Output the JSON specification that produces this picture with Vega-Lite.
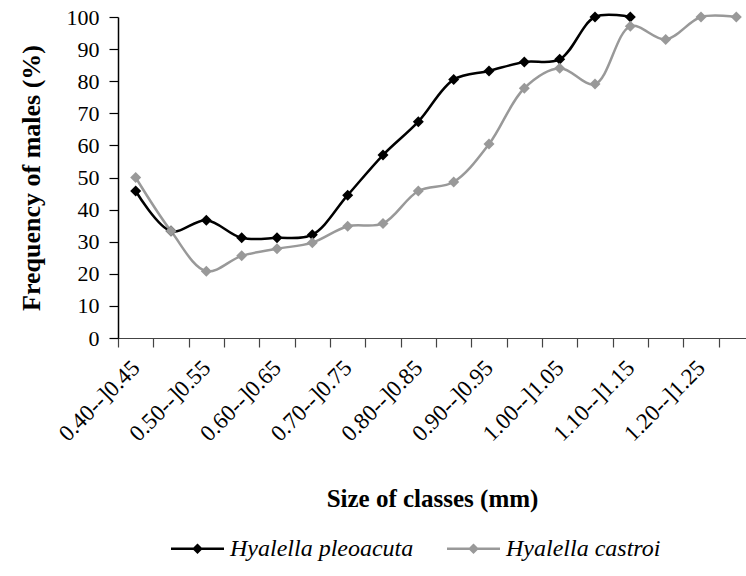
{
  "$schema": "https://vega.github.io/schema/vega-lite/v6.json",
  "autosize": "none",
  "width": 628,
  "height": 321,
  "padding": {"left": 118, "top": 17, "right": 0, "bottom": 238},
  "background": "white",
  "config": {
    "view": {"stroke": null},
    "font": "Liberation Serif"
  },
  "data": {
    "values": [
      {"size": "0.40--]0.45", "species": "Hyalella pleoacuta", "freq": 45.8},
      {"size": "0.45--]0.50", "species": "Hyalella pleoacuta", "freq": 33.3},
      {"size": "0.50--]0.55", "species": "Hyalella pleoacuta", "freq": 36.7},
      {"size": "0.55--]0.60", "species": "Hyalella pleoacuta", "freq": 31.2},
      {"size": "0.60--]0.65", "species": "Hyalella pleoacuta", "freq": 31.2},
      {"size": "0.65--]0.70", "species": "Hyalella pleoacuta", "freq": 32.2},
      {"size": "0.70--]0.75", "species": "Hyalella pleoacuta", "freq": 44.5},
      {"size": "0.75--]0.80", "species": "Hyalella pleoacuta", "freq": 57.0},
      {"size": "0.80--]0.85", "species": "Hyalella pleoacuta", "freq": 67.4},
      {"size": "0.85--]0.90", "species": "Hyalella pleoacuta", "freq": 80.5},
      {"size": "0.90--]0.95", "species": "Hyalella pleoacuta", "freq": 83.2},
      {"size": "0.95--]1.00", "species": "Hyalella pleoacuta", "freq": 86.0},
      {"size": "1.00--]1.05", "species": "Hyalella pleoacuta", "freq": 86.8},
      {"size": "1.05--]1.10", "species": "Hyalella pleoacuta", "freq": 100},
      {"size": "1.10--]1.15", "species": "Hyalella pleoacuta", "freq": 100},
      {"size": "0.40--]0.45", "species": "Hyalella castroi", "freq": 50.0},
      {"size": "0.45--]0.50", "species": "Hyalella castroi", "freq": 33.3},
      {"size": "0.50--]0.55", "species": "Hyalella castroi", "freq": 20.8},
      {"size": "0.55--]0.60", "species": "Hyalella castroi", "freq": 25.6},
      {"size": "0.60--]0.65", "species": "Hyalella castroi", "freq": 27.8},
      {"size": "0.65--]0.70", "species": "Hyalella castroi", "freq": 29.7},
      {"size": "0.70--]0.75", "species": "Hyalella castroi", "freq": 34.8},
      {"size": "0.75--]0.80", "species": "Hyalella castroi", "freq": 35.7},
      {"size": "0.80--]0.85", "species": "Hyalella castroi", "freq": 45.8},
      {"size": "0.85--]0.90", "species": "Hyalella castroi", "freq": 48.6},
      {"size": "0.90--]0.95", "species": "Hyalella castroi", "freq": 60.4},
      {"size": "0.95--]1.00", "species": "Hyalella castroi", "freq": 77.8},
      {"size": "1.00--]1.05", "species": "Hyalella castroi", "freq": 84.0},
      {"size": "1.05--]1.10", "species": "Hyalella castroi", "freq": 79.1},
      {"size": "1.10--]1.15", "species": "Hyalella castroi", "freq": 97.1},
      {"size": "1.15--]1.20", "species": "Hyalella castroi", "freq": 93.0},
      {"size": "1.20--]1.25", "species": "Hyalella castroi", "freq": 100},
      {"size": "1.25--]1.30", "species": "Hyalella castroi", "freq": 100}
    ]
  },
  "encoding": {
    "x": {
      "field": "size",
      "type": "ordinal",
      "sort": null,
      "scale": {
        "type": "band",
        "domain": ["0.40--]0.45", "0.45--]0.50", "0.50--]0.55", "0.55--]0.60", "0.60--]0.65", "0.65--]0.70", "0.70--]0.75", "0.75--]0.80", "0.80--]0.85", "0.85--]0.90", "0.90--]0.95", "0.95--]1.00", "1.00--]1.05", "1.05--]1.10", "1.10--]1.15", "1.15--]1.20", "1.20--]1.25", "1.25--]1.30"],
        "paddingInner": 0,
        "paddingOuter": 0,
        "range": [0, 636]
      },
      "axis": {
        "title": "Size of classes (mm)",
        "titleFont": "Liberation Serif",
        "titleFontSize": 25,
        "titleFontWeight": "bold",
        "titleColor": "black",
        "titleY": 148,
        "titleX": 314,
        "labelAngle": -45,
        "labelAlign": "right",
        "labelBaseline": "middle",
        "labelFont": "Liberation Serif",
        "labelFontSize": 23,
        "labelColor": "black",
        "labelPadding": 17,
        "labelOverlap": false,
        "labelLimit": 300,
        "labelExpr": "indexof(['0.40--]0.45','0.50--]0.55','0.60--]0.65','0.70--]0.75','0.80--]0.85','0.90--]0.95','1.00--]1.05','1.10--]1.15','1.20--]1.25'], datum.value) >= 0 ? datum.value : ''",
        "tickBand": "extent",
        "tickSize": 9,
        "tickColor": "#444",
        "domainColor": "#444",
        "tickWidth": 1.2,
        "domainWidth": 1.2,
        "grid": false
      }
    },
    "y": {
      "field": "freq",
      "type": "quantitative",
      "scale": {"domain": [0, 100], "nice": false},
      "axis": {
        "title": "Frequency of males (%)",
        "titleFont": "Liberation Serif",
        "titleFontSize": 26,
        "titleFontWeight": "bold",
        "titleColor": "black",
        "titlePadding": 22,
        "values": [0, 10, 20, 30, 40, 50, 60, 70, 80, 90, 100],
        "labelFont": "Liberation Serif",
        "labelFontSize": 22,
        "labelColor": "black",
        "labelPadding": 10,
        "tickSize": 9,
        "tickColor": "black",
        "domainColor": "black",
        "tickWidth": 1.2,
        "domainWidth": 1.5,
        "grid": false
      }
    },
    "color": {
      "field": "species",
      "type": "nominal",
      "scale": {"domain": ["Hyalella pleoacuta", "Hyalella castroi"], "range": ["#000000", "#999999"]},
      "legend": {
        "title": null,
        "orient": "none",
        "direction": "horizontal",
        "columns": 2,
        "legendX": 53,
        "legendY": 505,
        "padding": 0,
        "labelFont": "Liberation Serif",
        "labelFontSize": 24,
        "labelFontStyle": "italic",
        "labelColor": "black",
        "labelLimit": 400,
        "labelOffset": 6,
        "columnPadding": 33,
        "symbolType": "M-1,-0.045L1,-0.045L1,0.045L-1,0.045Z M-0.2,0L0,-0.2L0.2,0L0,0.2Z",
        "symbolSize": 2809,
        "symbolStrokeWidth": 0,
        "encode": {
          "symbols": {"update": {"fill": {"scale": "color", "field": "value"}, "opacity": {"value": 1}}}
        }
      }
    }
  },
  "layer": [
    {
      "mark": {"type": "line", "interpolate": "catmull-rom", "strokeWidth": 2.5}
    },
    {
      "mark": {"type": "point", "shape": "diamond", "filled": true, "size": 121, "opacity": 1}
    }
  ]
}
